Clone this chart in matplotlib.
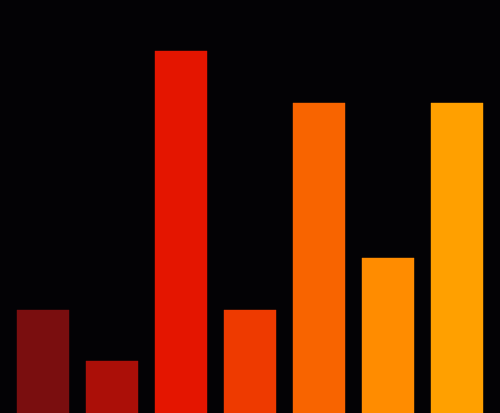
import matplotlib
matplotlib.use("Agg")
import matplotlib.pyplot as plt

# bar values
categories = ["a", "b", "c", "d", "e", "f", "g"]
values = [2, 1, 7, 2, 6, 3, 6]
colors = ["#7a0e0f", "#ab0f08", "#e41500", "#ee3a00", "#f86400", "#ff8c00", "#ffa000"]

bg = "#030205"

fig = plt.figure(figsize=(5.0, 4.14), dpi=100, facecolor=bg)
ax = fig.add_axes([0, 0, 1, 1], facecolor=bg)

x = range(len(categories))
ax.bar(x, values, width=0.745, color=colors, edgecolor=colors, linewidth=0.3)

ax.set_xlim(-0.623, 6.623)
ax.set_ylim(0, 8)
ax.axis("off")

fig.savefig("out.png", facecolor=bg)
